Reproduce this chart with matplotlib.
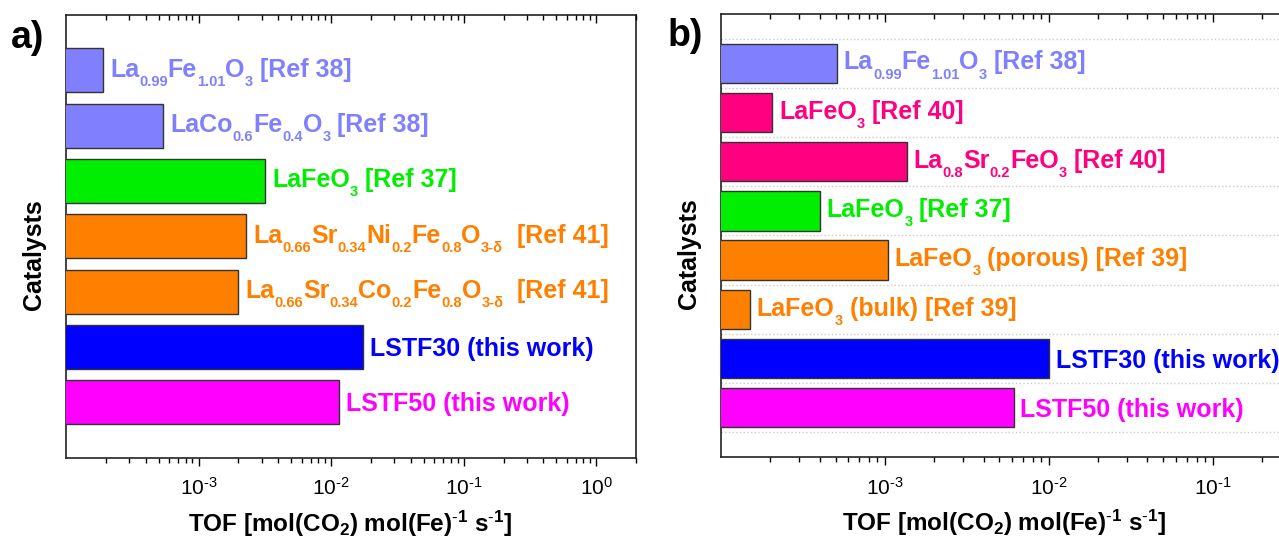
import re
import numpy as np
import matplotlib
matplotlib.use('Agg')
import matplotlib.pyplot as plt
from matplotlib.ticker import LogLocator, FuncFormatter, NullFormatter, FixedLocator

plt.rcParams['font.family'] = ['Liberation Sans', 'DejaVu Sans']
plt.rcParams['mathtext.fontset'] = 'custom'
plt.rcParams['mathtext.rm'] = 'Liberation Sans'
plt.rcParams['mathtext.bf'] = 'Liberation Sans:bold'
plt.rcParams['mathtext.default'] = 'regular'

# panel a data (top to bottom); _{..} marks a subscript
labels_a = ['La_{0.99}Fe_{1.01}O_{3} [Ref 38]',
            'LaCo_{0.6}Fe_{0.4}O_{3} [Ref 38]',
            'LaFeO_{3} [Ref 37]',
            'La_{0.66}Sr_{0.34}Ni_{0.2}Fe_{0.8}O_{3-δ}  [Ref 41]',
            'La_{0.66}Sr_{0.34}Co_{0.2}Fe_{0.8}O_{3-δ}  [Ref 41]',
            'LSTF30 (this work)',
            'LSTF50 (this work)']
tof_a = [1.9e-4, 5.4e-4, 3.2e-3, 2.3e-3, 2.0e-3, 1.74e-2, 1.15e-2]
colors_a = ['#8080ff', '#8080ff', '#00ee00', '#ff8000', '#ff8000', '#0000ff', '#ff00ff']

# panel b data (top to bottom)
labels_b = ['La_{0.99}Fe_{1.01}O_{3} [Ref 38]',
            'LaFeO_{3} [Ref 40]',
            'La_{0.8}Sr_{0.2}FeO_{3} [Ref 40]',
            'LaFeO_{3} [Ref 37]',
            'LaFeO_{3} (porous) [Ref 39]',
            'LaFeO_{3} (bulk) [Ref 39]',
            'LSTF30 (this work)',
            'LSTF50 (this work)']
tof_b = [5.1e-4, 2.05e-4, 1.36e-3, 4.0e-4, 1.04e-3, 1.5e-4, 1.0e-2, 6.1e-3]
colors_b = ['#8080ff', '#ff0080', '#ff0080', '#00ee00', '#ff8000', '#ff8000', '#0000ff', '#ff00ff']

xlabel = r'TOF [mol(CO$_{\mathbf{2}}$) mol(Fe)$^{\mathbf{\text{-}1}}$ s$^{\mathbf{\text{-}1}}$]'

decades = [1e-3, 1e-2, 1e-1, 1e0]


def dec_label(v, pos):
    e = int(round(np.log10(v)))
    if e < 0:
        return r'$10^{\text{-}%d}$' % (-e)
    return r'$10^{%d}$' % e


def bar_label(ax, x, y, s, color):
    # main text 18pt, subscripts smaller and dropped, pieces placed one after another
    pieces = [p for p in re.split(r'(_\{[^}]*\})', s) if p]
    shift = 2 if len(pieces) > 1 else 0
    prev = None
    for p in pieces:
        sub = p.startswith('_{')
        txt = p[2:-1] if sub else p
        dy = -6.5 + shift - (6.5 if sub else 0)
        kw = dict(textcoords='offset points', va='baseline', ha='left',
                  fontsize=10.5 if sub else 18, fontweight='bold', color=color)
        if prev is None:
            prev = ax.annotate(txt, xy=(x, y), xytext=(5, dy), **kw)
        else:
            prev = ax.annotate(txt, xy=(1, y), xycoords=(prev, 'data'), xytext=(0, dy), **kw)


fig = plt.figure(figsize=(12.79, 5.41), dpi=100)
ax_a = fig.add_axes([0.0516, 0.154, 0.4457, 0.8183])
ax_b = fig.add_axes([0.5637, 0.1553, 0.5125, 0.8188])


def panel(ax, labels, vals, colors, xmax, grid):
    y = np.arange(1, len(vals) + 1)
    ax.barh(y, vals, height=0.8, color=colors, edgecolor='#333333', linewidth=1.0, zorder=3)
    for yi, v, lab, c in zip(y, vals, labels, colors):
        bar_label(ax, v, yi, lab, c)
    ax.set_xscale('log')
    ax.set_xlim(1e-4, xmax)
    ax.set_ylim(len(vals) + 1, 0)
    ax.xaxis.set_major_locator(FixedLocator(decades))
    ax.xaxis.set_major_formatter(FuncFormatter(dec_label))
    ax.xaxis.set_minor_locator(LogLocator(subs=np.arange(2, 10)))
    ax.xaxis.set_minor_formatter(NullFormatter())
    ax.tick_params(axis='x', which='major', direction='out', length=6, width=1, labelsize=15, pad=8)
    ax.tick_params(axis='x', which='minor', direction='out', length=3.5, width=1)
    ax.tick_params(axis='y', left=False, labelleft=False)
    if grid:
        ax.yaxis.set_minor_locator(FixedLocator(np.arange(0.5, len(vals) + 1, 1)))
        ax.grid(axis='y', which='minor', ls=':', color='#cccccc', lw=1)
        ax.tick_params(axis='y', which='minor', left=False)
    for s in ax.spines.values():
        s.set_linewidth(1.2)
        s.set_color('#222222')
    top = ax.twiny()
    top.set_xscale('log')
    top.set_xlim(ax.get_xlim())
    top.xaxis.set_major_locator(FixedLocator(decades))
    top.xaxis.set_minor_locator(LogLocator(subs=np.arange(2, 10)))
    top.tick_params(axis='x', which='major', direction='in', length=6, width=1, labeltop=False)
    top.tick_params(axis='x', which='minor', direction='in', length=3.5, width=1)
    top.xaxis.set_minor_formatter(NullFormatter())
    for s in top.spines.values():
        s.set_visible(False)


panel(ax_a, labels_a, tof_a, colors_a, 2.0, False)
panel(ax_b, labels_b, tof_b, colors_b, 1.0, True)

ax_a.set_xlabel(xlabel, fontsize=17.5, fontweight='bold', va='center')
ax_a.xaxis.set_label_coords((350 - 66) / 570, (457 - 523) / 442.7)
ax_b.set_xlabel(xlabel, fontsize=17.5, fontweight='bold', va='center')
ax_b.xaxis.set_label_coords((1004 - 721) / 655.5, (457 - 523) / 443)

ax_a.set_ylabel('Catalysts', fontsize=18, fontweight='bold', va='center')
ax_a.yaxis.set_label_coords((34 - 66) / 570, (457 - 254) / 442.7)
ax_b.set_ylabel('Catalysts', fontsize=18, fontweight='bold', va='center')
ax_b.yaxis.set_label_coords((689 - 721) / 655.5, (457 - 254) / 443)

fig.text(28 / 1279, 1 - 38 / 541, 'a)', fontsize=27, fontweight='bold', ha='center', va='center')
fig.text(685 / 1279, 1 - 36 / 541, 'b)', fontsize=27, fontweight='bold', ha='center', va='center')

fig.savefig('out.png', dpi=100)
